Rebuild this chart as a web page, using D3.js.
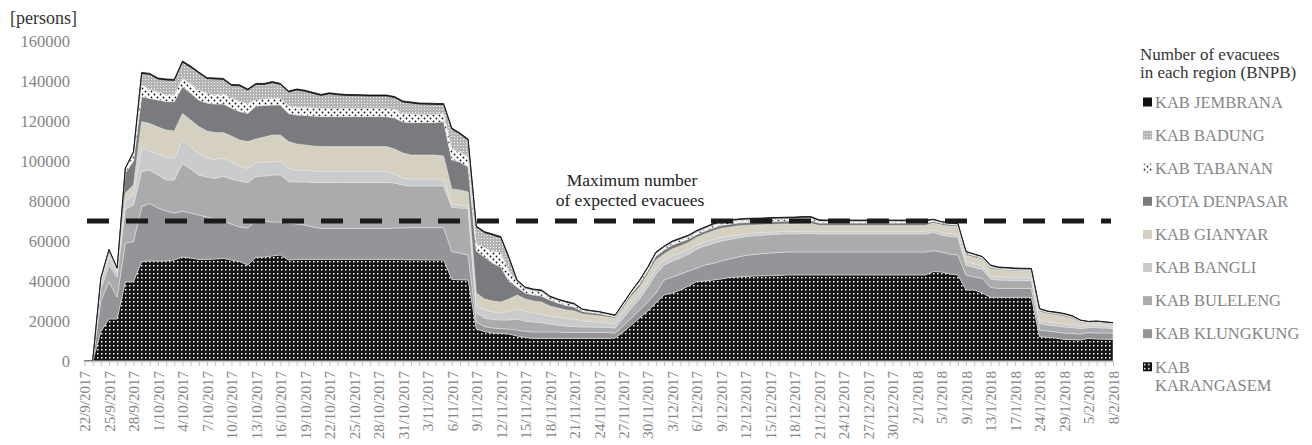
<!DOCTYPE html>
<html>
<head>
<meta charset="utf-8">
<script src="https://cdn.jsdelivr.net/npm/d3@7"></script>
<style>
  body { margin: 0; background: #fff; }
  text { font-family: "Liberation Serif", "Times New Roman", serif; }
</style>
</head>
<body>
<div id="chart"></div>
<script>
// category labels (one per report day)
var dates = [
  "22/9/2017","23/9/2017","24/9/2017","25/9/2017","26/9/2017","27/9/2017","28/9/2017","29/9/2017","30/9/2017",
  "1/10/2017","2/10/2017","3/10/2017","4/10/2017","5/10/2017","6/10/2017","7/10/2017","8/10/2017","9/10/2017","10/10/2017",
  "11/10/2017","12/10/2017","13/10/2017","14/10/2017","15/10/2017","16/10/2017","17/10/2017","18/10/2017","19/10/2017","20/10/2017",
  "21/10/2017","22/10/2017","23/10/2017","24/10/2017","25/10/2017","26/10/2017","27/10/2017","28/10/2017","29/10/2017","30/10/2017","31/10/2017",
  "1/11/2017","2/11/2017","3/11/2017","4/11/2017","5/11/2017","6/11/2017","7/11/2017","8/11/2017","9/11/2017","10/11/2017",
  "11/11/2017","12/11/2017","13/11/2017","14/11/2017","15/11/2017","16/11/2017","17/11/2017","18/11/2017","19/11/2017","20/11/2017",
  "21/11/2017","22/11/2017","23/11/2017","24/11/2017","25/11/2017","26/11/2017","27/11/2017","28/11/2017","29/11/2017","30/11/2017",
  "1/12/2017","2/12/2017","3/12/2017","4/12/2017","5/12/2017","6/12/2017","7/12/2017","8/12/2017","9/12/2017","10/12/2017",
  "11/12/2017","12/12/2017","13/12/2017","14/12/2017","15/12/2017","16/12/2017","17/12/2017","18/12/2017","19/12/2017","20/12/2017",
  "21/12/2017","22/12/2017","23/12/2017","24/12/2017","25/12/2017","26/12/2017","27/12/2017","28/12/2017","29/12/2017","30/12/2017","31/12/2017",
  "1/1/2018","2/1/2018","3/1/2018","4/1/2018","5/1/2018","6/1/2018","8/1/2018","9/1/2018","10/1/2018","11/1/2018",
  "13/1/2018","14/1/2018","15/1/2018","17/1/2018","19/1/2018","22/1/2018","24/1/2018","25/1/2018","26/1/2018","29/1/2018",
  "31/1/2018","2/2/2018","5/2/2018","6/2/2018","7/2/2018","8/2/2018"
];

// evacuees per region, bottom layer first
var karangasem = [
  0, 0, 14700, 21000, 21000, 39600, 39600, 49700, 50000, 50000,
  50000, 50500, 52000, 51500, 50800, 50800, 51000, 51300, 50500, 49700,
  48000, 51800, 52000, 52500, 53000, 50500, 50800, 50800, 50800, 50800,
  50800, 50800, 50800, 50800, 50800, 50800, 50800, 50800, 50800, 50700,
  50600, 50600, 50500, 50500, 50500, 40800, 40600, 40500, 16000, 14700,
  14000, 13800, 13500, 12500, 11800, 11300, 11300, 11300, 11300, 11300,
  11300, 11300, 11300, 11300, 11300, 11500, 14500, 18000, 21500, 25000,
  29000, 33000, 34000, 35500, 37500, 39700, 40000, 40500, 41000, 41800,
  42000, 42300, 42500, 42600, 42700, 42700, 43000, 43000, 43000, 43000,
  43000, 43000, 43000, 43000, 43000, 43000, 43000, 43000, 43000, 43000,
  43000, 43000, 43000, 43000, 44700, 44500, 43500, 43000, 35500, 35500,
  34000, 31800, 31800, 31800, 31800, 31800, 31800, 12200, 11800, 11500,
  10800, 10700, 10500, 11300, 11000, 10900, 10800
];
var klungkung = [
  0, 0, 15300, 18700, 11000, 19400, 20100, 27500, 28800, 26500,
  25000, 23500, 23000, 22500, 22200, 21200, 20000, 18700, 18000, 17300,
  18500, 18200, 18000, 17000, 16500, 18500, 17700, 17200, 16200, 15500,
  15500, 15500, 15500, 15500, 15500, 15500, 15500, 15500, 15700, 15900,
  16100, 16100, 16200, 16200, 16300, 13900, 13400, 12500, 3500, 2500,
  2500, 2400, 2500, 3000, 3000, 3200, 3200, 3200, 3200, 3000,
  3000, 3000, 3000, 3000, 3000, 2500, 3000, 3500, 4000, 4500,
  5000, 7500, 8000, 8000, 7500, 6800, 8000, 8300, 9000, 9200,
  10000, 10500, 10800, 11100, 11300, 11500, 11500, 11500, 11500, 11500,
  11500, 11500, 11500, 11500, 11500, 11500, 11500, 11500, 11500, 11500,
  11500, 11500, 11500, 11500, 10500, 10000, 10000, 10000, 7500, 6500,
  7300, 5000, 4500, 4500, 4500, 4500, 4500, 3300, 3200, 3000,
  3200, 3100, 3000, 2900, 3000, 3100, 3200
];
var buleleng = [
  0, 0, 6000, 8300, 10000, 17000, 18300, 17500, 16700, 16500,
  15500, 16500, 23800, 22000, 20000, 20000, 20300, 22300, 22500, 23000,
  22700, 22200, 22500, 23500, 23500, 20700, 21000, 21500, 22300, 23000,
  23000, 23000, 23000, 23000, 23000, 23000, 23000, 23000, 22500, 21400,
  20800, 20800, 20800, 20800, 20700, 22100, 22500, 23300, 4500, 4300,
  4300, 4300, 4500, 5500, 5200, 5000, 4700, 4000, 3500, 3200,
  3000, 2700, 2700, 2600, 2500, 2500, 4000, 5000, 5500, 7500,
  9500, 7500, 8000, 8000, 8500, 9500, 9500, 10000, 10000, 9800,
  9500, 9400, 9300, 9200, 9200, 9200, 9100, 9100, 9200, 9200,
  9000, 9000, 9000, 9000, 9000, 9000, 9000, 9000, 9000, 9000,
  9000, 9000, 9000, 9000, 9100, 8500, 8800, 9000, 4800, 4800,
  4500, 4200, 4200, 4100, 4000, 4000, 3900, 3300, 3000, 3100,
  3000, 2900, 2700, 2500, 2700, 2500, 2200
];
var bangli = [
  0, 0, 3000, 4000, 2500, 4000, 5000, 12500, 9500, 10500,
  11500, 11000, 11700, 11000, 10800, 9500, 9500, 9200, 8500, 7500,
  7100, 7000, 7000, 6700, 6700, 6600, 6000, 5700, 5700, 5400,
  5400, 5400, 5400, 5400, 5400, 5400, 5400, 5400, 4500, 3500,
  3500, 3500, 3500, 3500, 3500, 1700, 1500, 1200, 4000, 4000,
  3700, 3500, 4500, 5000, 5000, 4500, 4300, 4000, 4000, 3800,
  3700, 3000, 2800, 2600, 2400, 2300, 2500, 2500, 2500, 2500,
  2500, 2500, 2500, 2500, 2300, 2000, 2000, 2000, 1800, 1700,
  1500, 1400, 1400, 1300, 1200, 1200, 1200, 1200, 1200, 1200,
  1200, 1200, 1200, 1200, 1200, 1200, 1200, 1200, 1200, 1200,
  1200, 1200, 1200, 1200, 1200, 1300, 1300, 1300, 1900, 1800,
  1700, 1500, 1500, 1500, 1500, 1400, 1400, 1500, 1500, 1500,
  1500, 1400, 1300, 1100, 1200, 1100, 1000
];
var gianyar = [
  0, 0, 1000, 2000, 1000, 4000, 5000, 12500, 13800, 13500,
  13500, 13500, 13300, 13500, 13400, 13500, 13400, 12700, 13000, 13000,
  13400, 11800, 12500, 13300, 13300, 13400, 13000, 12800, 12500, 12500,
  12500, 12500, 12500, 12500, 12500, 12500, 12500, 12500, 12500, 12500,
  12000, 12000, 12000, 12000, 11500, 7500, 7500, 7000, 6000, 5500,
  5500, 5500, 6000, 7000, 6000, 6000, 6000, 5000, 4500, 4200,
  4000, 3500, 3200, 3100, 2800, 2600, 2800, 3500, 3500, 4000,
  4500, 3000, 3500, 3500, 3500, 3800, 4000, 4200, 4500, 4400,
  4500, 4200, 4000, 3900, 3900, 3800, 3700, 3800, 3900, 3900,
  3100, 3100, 3100, 3100, 3100, 3100, 3100, 3100, 3100, 3100,
  3100, 3100, 3100, 3100, 3500, 3700, 3800, 3900, 3300, 3200,
  3200, 3500, 3500, 3400, 3200, 3200, 3200, 4500, 4000, 3900,
  3800, 3200, 1900, 1200, 1300, 1200, 1100
];
var denpasar = [
  0, 0, 1000, 1200, 500, 10000, 12000, 12500, 12500, 13500,
  14200, 14700, 13400, 13500, 13300, 14000, 14300, 14300, 14000, 14300,
  14100, 16500, 15800, 15000, 15000, 14100, 14500, 14800, 15000, 15000,
  15000, 15000, 15000, 15000, 15000, 15000, 15000, 15000, 15500, 15500,
  16200, 16200, 16200, 16200, 17200, 14500, 14000, 12500, 21000, 21000,
  19000, 17500, 9000, 4000, 3000, 3000, 3000, 3000, 2500, 2300,
  2000, 1300, 1200, 1100, 900, 700, 1000, 1300, 1500, 1500,
  2000, 2000, 2000, 2000, 1700, 1500, 1500, 1600, 1600, 1500,
  1500, 1500, 1500, 1500, 1500, 1500, 1500, 1500, 1500, 1500,
  1200, 1200, 1200, 1200, 1200, 1200, 1200, 1200, 1200, 1200,
  1200, 1200, 1200, 1200, 800, 900, 800, 800, 800, 800,
  700, 800, 500, 500, 500, 500, 500, 700, 700, 700,
  700, 600, 500, 300, 300, 300, 400
];
var tabanan = [
  0, 0, 200, 300, 200, 2000, 3500, 5800, 4500, 4000,
  3300, 3300, 4100, 4500, 5000, 4800, 4500, 5000, 5000, 5000,
  5000, 3000, 3200, 3300, 3300, 3700, 4000, 4000, 4000, 4100,
  4100, 4100, 4100, 4100, 4100, 4100, 4100, 4100, 4300, 4300,
  4300, 4200, 4100, 4100, 4000, 5500, 5000, 5000, 4000, 4500,
  6000, 7000, 5000, 2500, 2000, 2000, 2000, 1300, 1300, 1200,
  1100, 700, 600, 600, 500, 400, 600, 700, 1000, 1200,
  1100, 1000, 1000, 1000, 1000, 1000, 1000, 1100, 1100, 1100,
  1000, 1000, 900, 900, 900, 900, 900, 900, 900, 900,
  800, 700, 700, 700, 700, 700, 700, 700, 700, 700,
  700, 700, 700, 700, 600, 500, 500, 500, 500, 500,
  500, 500, 400, 400, 400, 400, 400, 400, 400, 400,
  400, 400, 300, 250, 250, 250, 250
];
var badung = [
  0, 0, 200, 200, 200, 300, 800, 5800, 7500, 6500,
  7500, 7300, 8100, 8400, 8500, 7400, 8000, 7300, 6300, 7800,
  6700, 7800, 7300, 7900, 7000, 7000, 8500, 8100, 7300, 6500,
  7300, 6800, 6500, 6400, 6300, 6200, 6200, 6200, 5900, 5700,
  5500, 5100, 5100, 5000, 4500, 10000, 9000, 8500, 8000, 7700,
  8000, 7700, 6500, 700, 700, 700, 700, 400, 400, 500,
  400, 300, 300, 300, 300, 300, 400, 300, 700, 500,
  600, 700, 700, 700, 700, 700, 700, 700, 800, 700,
  700, 700, 700, 700, 700, 700, 700, 700, 700, 700,
  500, 500, 500, 500, 500, 500, 500, 500, 500, 500,
  500, 500, 500, 500, 300, 200, 200, 200, 300, 300,
  200, 400, 300, 300, 300, 300, 300, 200, 200, 200,
  200, 200, 200, 150, 150, 150, 150
];
var jembrana = [
  0, 0, 100, 100, 100, 200, 400, 500, 500, 500,
  500, 500, 600, 600, 500, 500, 500, 500, 500, 500,
  500, 500, 500, 500, 500, 500, 500, 500, 500, 500,
  500, 500, 500, 500, 500, 500, 500, 500, 500, 500,
  500, 500, 500, 500, 500, 500, 500, 500, 500, 500,
  500, 500, 500, 300, 300, 300, 300, 300, 300, 300,
  300, 200, 200, 200, 200, 200, 200, 200, 300, 300,
  300, 300, 300, 300, 300, 300, 300, 300, 400, 400,
  300, 300, 300, 300, 300, 300, 300, 300, 300, 300,
  300, 300, 300, 300, 300, 300, 300, 300, 300, 300,
  300, 300, 300, 300, 200, 100, 100, 100, 200, 100,
  200, 300, 300, 300, 300, 300, 300, 200, 200, 200,
  200, 200, 100, 100, 100, 100, 100
];

var regionKeys = ["karangasem", "klungkung", "buleleng", "bangli", "gianyar", "denpasar", "tabanan", "badung", "jembrana"];
var regionNames = ["KAB KARANGASEM", "KAB KLUNGKUNG", "KAB BULELENG", "KAB BANGLI", "KAB GIANYAR", "KOTA DENPASAR", "KAB TABANAN", "KAB BADUNG", "KAB JEMBRANA"];
var yTicks = [0, 20000, 40000, 60000, 80000, 100000, 120000, 140000, 160000];
var expectedMax = 70000;

var seriesByKey = {
  karangasem: karangasem, klungkung: klungkung, buleleng: buleleng, bangli: bangli, gianyar: gianyar,
  denpasar: denpasar, tabanan: tabanan, badung: badung, jembrana: jembrana
};

var table = dates.map(function (d, i) {
  var row = { date: d, idx: i };
  regionKeys.forEach(function (k) { row[k] = seriesByKey[k][i]; });
  return row;
});

var width = 1312, height = 445;

var svg = d3.select("#chart").append("svg")
  .attr("width", width)
  .attr("height", height);

// fill patterns
var defs = svg.append("defs");

var pKar = defs.append("pattern").attr("id", "p_karangasem")
  .attr("patternUnits", "userSpaceOnUse").attr("width", 4).attr("height", 4);
pKar.append("rect").attr("width", 4).attr("height", 4).attr("fill", "#141414");
pKar.append("rect").attr("x", 1).attr("y", 1).attr("width", 1.5).attr("height", 1.5).attr("fill", "#ffffff");

var pTab = defs.append("pattern").attr("id", "p_tabanan")
  .attr("patternUnits", "userSpaceOnUse").attr("width", 6).attr("height", 6);
pTab.append("rect").attr("width", 6).attr("height", 6).attr("fill", "#ffffff");
pTab.append("circle").attr("cx", 1.5).attr("cy", 1.5).attr("r", 0.9).attr("fill", "#111");
pTab.append("circle").attr("cx", 4.5).attr("cy", 4.5).attr("r", 0.9).attr("fill", "#111");

var pBad = defs.append("pattern").attr("id", "p_badung")
  .attr("patternUnits", "userSpaceOnUse").attr("width", 3).attr("height", 3);
pBad.append("rect").attr("width", 3).attr("height", 3).attr("fill", "#b4b4b6");
pBad.append("rect").attr("x", 1).attr("y", 1).attr("width", 1).attr("height", 1).attr("fill", "#f4f4f4");

var fills = {
  karangasem: "url(#p_karangasem)",
  klungkung: "#949598",
  buleleng: "#aaabad",
  bangli: "#cacbcd",
  gianyar: "#d5d0bf",
  denpasar: "#7a7b7e",
  tabanan: "url(#p_tabanan)",
  badung: "url(#p_badung)",
  jembrana: "#111111"
};

var x = d3.scalePoint()
  .domain(d3.range(dates.length))
  .range([84.5, 1113]);

var y = d3.scaleLinear()
  .domain([0, 160000])
  .range([361, 41]);

var stack = d3.stack().keys(regionKeys);
var layers = stack(table);

var area = d3.area()
  .x(function (d, i) { return x(i); })
  .y0(function (d) { return y(d[0]); })
  .y1(function (d) { return y(d[1]); });

svg.append("g").selectAll("path")
  .data(layers)
  .enter().append("path")
  .attr("d", area)
  .attr("fill", function (d) { return fills[d.key]; })
  .attr("stroke", function (d) { return d.key === "jembrana" ? "#111" : "#e4e4e4"; })
  .attr("stroke-width", function (d) { return d.key === "jembrana" ? 0.8 : 0.5; })
  .attr("stroke-linejoin", "round");

// x axis: a tick for every day, a label every third one
var xAxis = d3.axisBottom(x)
  .tickSize(5)
  .tickSizeOuter(0)
  .tickFormat(function (i) { return i % 3 === 0 ? dates[i] : ""; });

var gx = svg.append("g")
  .attr("transform", "translate(0," + y(0) + ")")
  .call(xAxis);
gx.select(".domain").attr("stroke", "#c4c4c4").attr("stroke-width", 1.5);
gx.selectAll(".tick line").attr("stroke", "#c4c4c4");
gx.selectAll(".tick text")
  .attr("transform", "rotate(-90)")
  .attr("x", -10)
  .attr("y", 0)
  .attr("dy", "0.35em")
  .style("text-anchor", "end")
  .style("font-family", "'Liberation Serif', serif")
  .style("font-size", "15px")
  .style("fill", "#858585");

// y axis labels only
svg.append("g").selectAll("text")
  .data(yTicks)
  .enter().append("text")
  .attr("x", 70)
  .attr("y", function (d) { return y(d); })
  .attr("dy", "0.35em")
  .attr("text-anchor", "end")
  .style("font-size", "16.5px")
  .style("fill", "#858585")
  .text(function (d) { return d; });

svg.append("text")
  .attr("x", 10)
  .attr("y", 24)
  .style("font-size", "18px")
  .style("fill", "#333")
  .text("[persons]");

// maximum expected evacuees
svg.append("line")
  .attr("x1", 87).attr("x2", 1111)
  .attr("y1", y(expectedMax)).attr("y2", y(expectedMax))
  .attr("stroke", "#1a1a1a")
  .attr("stroke-width", 5)
  .attr("stroke-dasharray", "22,17");

svg.append("text")
  .attr("x", 632).attr("y", 186)
  .attr("text-anchor", "middle")
  .style("font-size", "17.5px")
  .style("fill", "#222")
  .text("Maximum number");
svg.append("text")
  .attr("x", 630).attr("y", 206)
  .attr("text-anchor", "middle")
  .style("font-size", "17.5px")
  .style("fill", "#222")
  .text("of expected evacuees");

// legend
var legend = svg.append("g");
legend.append("text").attr("x", 1140).attr("y", 60)
  .style("font-size", "17px").style("fill", "#333").text("Number of evacuees");
legend.append("text").attr("x", 1140).attr("y", 78)
  .style("font-size", "17px").style("fill", "#333").text("in each region (BNPB)");

var legendKeys = regionKeys.slice().reverse();
var item = legend.selectAll(".item")
  .data(legendKeys)
  .enter().append("g")
  .attr("class", "item")
  .attr("transform", function (d, i) { return "translate(1143," + (102 + i * 33.1) + ")"; });

item.append("rect")
  .attr("x", 0).attr("y", -4.5)
  .attr("width", 9).attr("height", 9)
  .attr("fill", function (d) { return fills[d]; });

item.append("text")
  .attr("x", 12)
  .attr("y", 0)
  .attr("dy", "0.35em")
  .style("font-size", "16.5px")
  .style("fill", "#858585")
  .text(function (d) {
    var n = regionNames[regionKeys.indexOf(d)];
    return d === "karangasem" ? "KAB" : n;
  });

item.filter(function (d) { return d === "karangasem"; })
  .append("text")
  .attr("x", 12)
  .attr("y", 18)
  .attr("dy", "0.35em")
  .style("font-size", "16.5px")
  .style("fill", "#858585")
  .text("KARANGASEM");
</script>
</body>
</html>
